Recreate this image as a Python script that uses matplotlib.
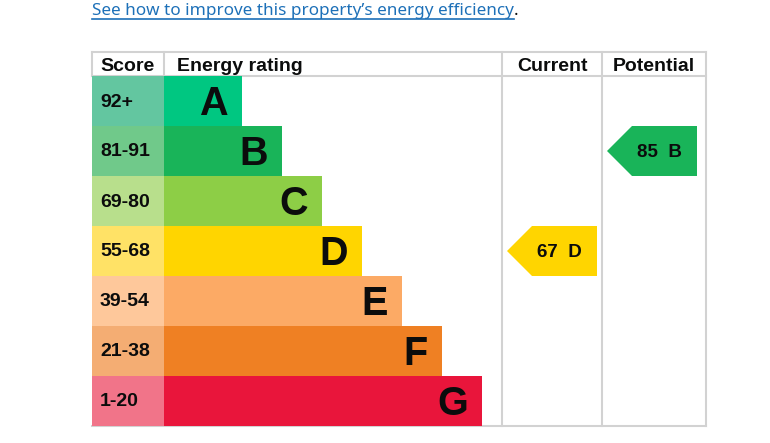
import matplotlib
matplotlib.use("Agg")
import matplotlib.pyplot as plt
from matplotlib.patches import Polygon

# ── data ──────────────────────────────────────────────────────────────────────
bands        = ["A", "B", "C", "D", "E", "F", "G"]
score_ranges = ["92+", "81-91", "69-80", "55-68", "39-54", "21-38", "1-20"]
band_lows    = [92, 81, 69, 55, 39, 21, 1]
bar_colors   = ["#00c781", "#19b459", "#8dce46", "#ffd500", "#fcaa65", "#ef8023", "#e9153b"]
score_colors = ["#63c6a0", "#70c98a", "#b8df8c", "#ffe266", "#fec89b", "#f4ad73", "#f17489"]
headers      = ["Score", "Energy rating", "Current", "Potential"]
current_score   = 67
potential_score = 85
link_text = "See how to improve this property\u2019s energy efficiency"

# ── layout (pixels) ──────────────────────────────────────────────────────────
W, H = 770, 443
X0, X_SCORE, X_CUR, X_POT, X1 = 92, 164, 502, 602, 706
Y_TOP, Y_HEAD, ROW_H = 52, 76, 50
BAR_MIN, BAR_STEP = 78, 40
GRID = "#d2d2d2"
INK = "#0b0c0c"
FONT = "Liberation Sans"


def band_index(score):
    for i, lo in enumerate(band_lows):
        if score >= lo:
            return i
    return len(bands) - 1


fig = plt.figure(figsize=(W / 100, H / 100), dpi=100)
fig.patch.set_facecolor("white")
ax = fig.add_axes([0, 0, 1, 1])
ax.set_xlim(0, W)
ax.set_ylim(H, 0)
ax.axis("off")

n = len(bands)
centers = [Y_HEAD + ROW_H * (i + 0.5) for i in range(n)]
widths  = [BAR_MIN + BAR_STEP * i for i in range(n)]
y_bot   = Y_HEAD + ROW_H * n

# grid lines
ax.plot([X0, X1], [Y_TOP, Y_TOP], color=GRID, lw=1.5, zorder=1)
ax.plot([X0, X1], [Y_HEAD - 0.5, Y_HEAD - 0.5], color=GRID, lw=1.5, zorder=1)
ax.plot([X0, X1], [y_bot, y_bot], color=GRID, lw=1.5, zorder=1)
for x in (X0, X_SCORE):
    ax.plot([x, x], [Y_TOP, Y_HEAD], color=GRID, lw=1.5, zorder=1)
for x in (X_CUR, X_POT, X1):
    ax.plot([x, x], [Y_TOP, y_bot], color=GRID, lw=1.5, zorder=1)

# bands
ax.barh(centers, [X_SCORE - X0] * n, left=X0, height=ROW_H, color=score_colors, zorder=2)
ax.barh(centers, widths, left=X_SCORE, height=ROW_H, color=bar_colors, zorder=2)

for i in range(n):
    ax.text(X0 + 8, centers[i] + 5.5, score_ranges[i], ha="left", va="baseline",
            fontsize=14, fontweight="bold", family=FONT, color=INK, zorder=3)
    ax.text(X_SCORE + widths[i] - 14, centers[i] + 14, bands[i], ha="right", va="baseline",
            fontsize=28.5, fontweight="bold", family=FONT, color=INK, zorder=3)

# headers
hy = 71
hkw = dict(va="baseline", fontsize=14, fontweight="bold", family=FONT, color=INK)
ax.text(X0 + 8, hy, headers[0], ha="left", **hkw)
ax.text(X_SCORE + 13, hy, headers[1], ha="left", **hkw)
ax.text((X_CUR + X_POT) / 2, hy, headers[2], ha="center", **hkw)
ax.text((X_POT + X1) / 2, hy, headers[3], ha="center", **hkw)


# rating arrows
def arrow(score, x_left, x_right):
    i = band_index(score)
    c = centers[i]
    top, bot = c - ROW_H / 2, c + ROW_H / 2
    pts = [(x_left, c), (x_left + ROW_H / 2, top), (x_right, top),
           (x_right, bot), (x_left + ROW_H / 2, bot)]
    ax.add_patch(Polygon(pts, closed=True, facecolor=bar_colors[i], edgecolor="none", zorder=2))
    ax.text((x_left + x_right) / 2 + 7, c + 6, f"{score}  {bands[i]}", ha="center",
            va="baseline", fontsize=13.5, fontweight="bold", family=FONT,
            color=INK, zorder=3)


arrow(current_score, X_CUR + 5, X_POT - 5)
arrow(potential_score, X_POT + 5, X1 - 9)

# link
t = ax.text(X0, 15, link_text, ha="left", va="baseline", fontsize=12.3,
            family="Noto Sans", color="#1d70b8")
fig.canvas.draw()
bb = t.get_window_extent().transformed(ax.transData.inverted())
ax.plot([bb.x0, bb.x1], [18.5, 18.5], color="#1d70b8", lw=1.2)
ax.text(bb.x1, 15, ".", ha="left", va="baseline", fontsize=12.3,
        family="Noto Sans", color=INK)

fig.savefig("out.png", dpi=100, facecolor="white")
